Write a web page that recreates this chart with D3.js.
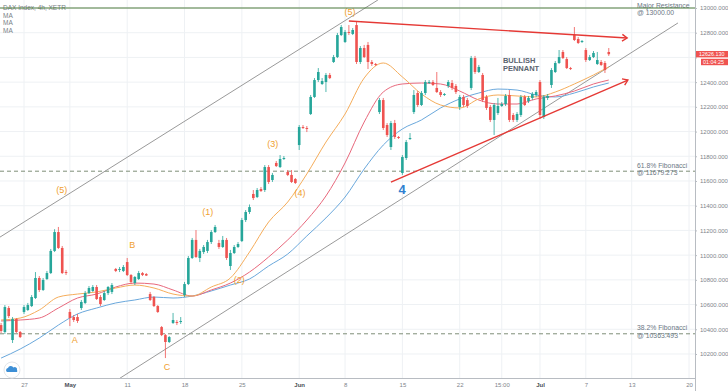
<!DOCTYPE html>
<html><head><meta charset="utf-8">
<script src="https://cdn.jsdelivr.net/npm/d3@7"></script>
<style>
html,body{margin:0;padding:0;background:#fff;}
svg{display:block;font-family:"Liberation Sans",Arial,sans-serif;}
</style></head><body>
<svg id="chart" width="728" height="391"></svg>
<script>
// ---------- DATA ----------
const opens = [10434,10378,10572,10313,10483,10378,10540,10556,10588,10653,
10815,10718,10807,10855,11034,11187,11058,10863,10540,10499,
10499,10572,10613,10693,10710,10742,10661,10637,10693,10702,
10888,10880,10872,10944,10839,10774,10807,10855,10847,10685,
10661,10588,10418,10353,10297,10451,10459,10459,10677,10766,
10977,11123,10977,11025,11034,11106,11187,11098,11066,11123,
10912,11017,11066,11114,11284,11349,11495,11470,11535,11527,
11713,11608,11746,11713,11778,11673,11649,11616,11891,12037,
12029,12142,12280,12417,12385,12401,12458,12563,12603,12781,
12725,12806,12790,12862,12563,12676,12701,12563,12547,12158,
12255,12053,11875,12069,11956,11665,11786,11940,12158,12312,
12215,12312,12393,12401,12353,12320,12296,12369,12393,12369,
12199,12280,12255,12353,12595,12482,12458,12280,12199,12094,
12150,12207,12223,12296,12134,12094,12134,12280,12247,12272,
12296,12401,12118,12272,12377,12482,12555,12644,12587,12514,
12781,12749,12725,12660,12579,12603,12547,12563,12555,12644];
const highs = [10451,10596,10588,10499,10491,10386,10596,10613,10677,10863,
10831,10815,10872,11050,11210,11228,11074,10880,10564,10515,
10524,10637,10710,10750,10758,10758,10677,10710,10750,10774,
10896,10904,10920,10977,10847,10831,10872,10863,10855,10702,
10669,10596,10426,10362,10345,10532,10475,10499,10783,10993,
11139,11203,11050,11082,11123,11203,11244,11123,11155,11139,
11042,11082,11106,11301,11365,11410,11527,11543,11551,11729,
11729,11665,11762,11810,11802,11689,11689,11624,12053,12053,
12045,12296,12433,12514,12433,12474,12474,12620,12798,12862,
12822,12862,12838,12887,12692,12701,12725,12579,12555,12272,
12272,12069,12086,12094,11964,11810,11932,11988,12336,12328,
12328,12417,12417,12417,12482,12336,12312,12417,12417,12385,
12296,12296,12272,12612,12612,12539,12474,12296,12215,12231,
12272,12239,12304,12336,12150,12158,12296,12296,12288,12320,
12336,12417,12296,12304,12514,12571,12660,12660,12603,12523,
12846,12765,12741,12676,12620,12652,12644,12579,12571,12676];
const lows = [10370,10362,10491,10289,10370,10329,10524,10548,10580,10645,
10702,10710,10799,10847,11025,11050,10847,10839,10426,10459,
10451,10556,10604,10685,10702,10637,10588,10629,10677,10685,
10863,10863,10863,10831,10766,10758,10799,10831,10831,10629,
10580,10532,10345,10167,10289,10443,10434,10443,10661,10758,
10969,10977,10944,11009,11017,11090,11179,11050,11058,10961,
10880,11009,11058,11106,11268,11333,11446,11462,11511,11511,
11576,11592,11713,11705,11770,11640,11584,11576,11851,12021,
11996,12134,12272,12401,12377,12320,12425,12555,12595,12773,
12717,12781,12781,12547,12547,12595,12506,12531,12531,12142,
12013,11956,11851,11940,11940,11649,11770,11932,12142,12199,
12207,12296,12385,12369,12312,12280,12288,12353,12336,12304,
12175,12199,12191,12336,12466,12474,12239,12175,12077,11972,
12134,12199,12207,12077,12077,12077,12118,12207,12231,12255,
12280,12102,12102,12255,12353,12474,12547,12587,12506,12498,
12733,12709,12717,12563,12571,12595,12539,12531,12474,12612];
const closes = [10386,10580,10507,10483,10378,10337,10580,10596,10661,10815,
10718,10799,10855,11034,11187,11058,10855,10855,10491,10475,
10467,10621,10693,10734,10742,10645,10604,10693,10742,10758,
10872,10888,10904,10839,10783,10823,10855,10839,10835,10637,
10588,10540,10353,10297,10337,10475,10451,10467,10766,10977,
11123,10985,11034,11066,11106,11187,11228,11066,11123,10977,
11017,11066,11090,11284,11349,11389,11462,11527,11519,11713,
11592,11649,11721,11778,11786,11649,11592,11584,12037,12029,
12021,12280,12417,12482,12409,12458,12433,12603,12781,12846,
12806,12798,12822,12563,12676,12603,12563,12547,12539,12255,
12029,11972,12069,11956,11948,11794,11915,11948,12296,12215,
12312,12401,12401,12377,12320,12296,12304,12401,12353,12320,
12280,12215,12207,12595,12482,12523,12255,12191,12094,12215,
12207,12223,12288,12094,12094,12142,12280,12215,12272,12304,
12320,12134,12280,12288,12498,12555,12603,12595,12514,12506,
12741,12717,12733,12579,12603,12636,12579,12539,12498,12626.13];

// x-axis ticks (candle index of the labelled session)
const tickIndex  = [6,18,33,48,63,78,90,105,120,131,141,153,165,180];
const tickLabels = ["27","May","11","18","25","Jun","8","15","22","15:00","Jul","7","13","20"];
const monthLabels = ["May","Jun","Jul"];
const priceTicks = [10200,10400,10600,10800,11000,11200,11400,11600,11800,12000,12200,12400,12600,12800,13000];

// moving averages sampled at candle indices
const maIndex = [0,5,10,15,20,25,30,35,40,45,50,55,60,65,70,75,80,85,90,95,100,105,110,115,120,125,130,135,140,145,150,155,159];
const maFast = [10475,10491,10556,10661,10685,10702,10734,10758,10734,10685,10669,10742,10815,11025,11268,11430,11657,11915,12142,12433,12555,12442,12304,12215,12191,12264,12296,12288,12280,12320,12385,12458,12523];
const maMid  = [10467,10475,10491,10572,10653,10685,10742,10774,10766,10718,10669,10718,10774,10863,10985,11123,11284,11479,11746,12077,12320,12385,12393,12385,12328,12255,12223,12223,12264,12288,12328,12385,12417];
const maSlow = [10167,10240,10329,10434,10524,10572,10613,10637,10661,10653,10669,10710,10758,10807,10912,11009,11155,11301,11470,11697,11891,12021,12094,12191,12264,12312,12344,12336,12296,12280,12312,12361,12393];

const resistanceLevel = 13000.00;
const fibLevels = [11679.273, 10363.493];
const fibNames = ["61.8% Fibonacci", "38.2% Fibonacci"];
const lastPrice = 12626.130;
const countdown = "01:04:25";

// trend lines [index, price] pairs
const channelUpper = [[-0.28, 11146], [98.6, 13065]];
const channelLower = [[31.1, 10004], [177.1, 12879]];
const pennantUpper = [[91.0, 12895], [163.8, 12757]];
const pennantLower = [[102.0, 11591], [164.0, 12417]];

// wave labels
const waveText  = ["(5)","A","B","C","(1)","(2)","(3)","(4)","(5)"];
const waveIndex = [15.9, 19.3, 34.3, 43.4, 54.1, 62.3, 71.1, 78.2, 91.3];
const wavePrice = [11527, 10313, 11082, 10095, 11349, 10799, 11899, 11503, 12968];
const bigLabel = {text:"4", index:104.9, price:11535};
const pennantText = ["BULLISH", "PENNANT"];
const pennantAnchor = {index:131.3, price:12555};

// ---------- DRAW ----------
const svg = d3.select("#chart");
const plotR = 695, plotB = 378;
const x = d3.scaleLinear().domain([-0.28, 181.56]).range([0, plotR]);
const y = d3.scaleLinear().domain([10000, 13000]).range([378.7, 8]);
const up = "#26a69a", down = "#ef5350";

svg.append("defs").append("clipPath").attr("id","plot")
  .append("rect").attr("x",0).attr("y",0).attr("width",plotR).attr("height",plotB);

// grid
const grid = svg.append("g");
grid.selectAll("line.v").data(tickIndex).join("line")
  .attr("x1", d=>x(d)).attr("x2", d=>x(d)).attr("y1",0).attr("y2",plotB)
  .attr("stroke","#eef1f4").attr("stroke-width",1);
grid.selectAll("line.h").data(priceTicks).join("line")
  .attr("x1",0).attr("x2",plotR).attr("y1",d=>y(d)).attr("y2",d=>y(d))
  .attr("stroke","#eef1f4").attr("stroke-width",1);

const plot = svg.append("g").attr("clip-path","url(#plot)");

// horizontal levels
plot.selectAll("line.fib").data(fibLevels).join("line")
  .attr("x1",0).attr("x2",plotR).attr("y1",d=>y(d)).attr("y2",d=>y(d))
  .attr("stroke","#7f8f78").attr("stroke-width",1).attr("stroke-dasharray","4,3");

// channel lines
const lineGen = d3.line().x(d=>x(d[0])).y(d=>y(d[1]));
[channelUpper, channelLower].forEach(c=>{
  plot.append("path").attr("d", lineGen(c)).attr("fill","none")
    .attr("stroke","#9a9a9a").attr("stroke-width",1);
});

// moving averages
const maLine = d3.line().x((d,i)=>x(maIndex[i])).y(d=>y(d)).curve(d3.curveMonotoneX);
[[maSlow,"#6aa8dc"],[maMid,"#e8687c"],[maFast,"#f5ad5b"]].forEach(([arr,col])=>{
  plot.append("path").attr("d", maLine(arr)).attr("fill","none")
    .attr("stroke",col).attr("stroke-width",1);
});

// candles
const idx = d3.range(opens.length);
const cg = plot.append("g");
cg.selectAll("line").data(idx).join("line")
  .attr("x1", i=>x(i)).attr("x2", i=>x(i))
  .attr("y1", i=>y(highs[i])).attr("y2", i=>y(lows[i]))
  .attr("stroke", i=>closes[i]>=opens[i]?up:down).attr("stroke-width",0.8);
cg.selectAll("rect").data(idx).join("rect")
  .attr("x", i=>x(i)-1.3).attr("width",2.6)
  .attr("y", i=>y(Math.max(opens[i],closes[i])))
  .attr("height", i=>Math.max(0.9, Math.abs(y(opens[i])-y(closes[i]))))
  .attr("fill", i=>closes[i]>=opens[i]?up:down);

// pennant lines with arrowheads
[pennantUpper, pennantLower].forEach(c=>{
  plot.append("path").attr("d", lineGen(c)).attr("fill","none")
    .attr("stroke","#e53935").attr("stroke-width",1.4);
  const x1=x(c[0][0]), y1=y(c[0][1]), x2=x(c[1][0]), y2=y(c[1][1]);
  const a = Math.atan2(y2-y1, x2-x1), L=6, A=0.6;
  const p1=[x2-L*Math.cos(a-A), y2-L*Math.sin(a-A)];
  const p2=[x2-L*Math.cos(a+A), y2-L*Math.sin(a+A)];
  plot.append("path").attr("d",`M${p1}L${x2},${y2}L${p2}`).attr("fill","none")
    .attr("stroke","#e53935").attr("stroke-width",1.4);
});

// wave labels
svg.selectAll("text.wave").data(waveText).join("text")
  .attr("x",(d,i)=>x(waveIndex[i])).attr("y",(d,i)=>y(wavePrice[i]))
  .attr("text-anchor","middle").attr("dominant-baseline","central")
  .attr("font-size",9).attr("fill","#f0a030").text(d=>d);
svg.append("text").attr("x",x(bigLabel.index)).attr("y",y(bigLabel.price))
  .attr("text-anchor","middle").attr("dominant-baseline","central")
  .attr("font-size",13).attr("font-weight","bold").attr("fill","#2f80d0").text(bigLabel.text);
svg.selectAll("text.pen").data(pennantText).join("text")
  .attr("x",x(pennantAnchor.index)).attr("y",(d,i)=>y(pennantAnchor.price)+i*8.5)
  .attr("font-size",7.5).attr("font-weight","bold").attr("fill","#5a6470").text(d=>d);

// right-hand annotations
const noteG = svg.append("g").attr("font-size",6.8).attr("fill","#6b7785");
function note(lines, yc){
  lines.forEach((t,i)=> noteG.append("text").attr("x",637).attr("y",yc + i*7.4)
    .attr("dominant-baseline","central").text(t));
}
note(["Major Resistance", "@ " + resistanceLevel.toFixed(2)], 5.5);
fibLevels.forEach((f,k)=> note([fibNames[k], "@ " + f.toFixed(3)], y(f)-6));

// legend top-left
const leg = svg.append("g").attr("font-size",6.5).attr("fill","#7a7f87");
leg.append("text").attr("x",3).attr("y",7).attr("dominant-baseline","central").text("DAX Index, 4h, XETR");
[0,1,2].forEach(k=> leg.append("text").attr("x",3).attr("y",15+k*7.5)
  .attr("dominant-baseline","central").text("MA"));
// resistance line drawn over the legend (as in reference)
svg.append("line").attr("x1",0).attr("x2",plotR)
  .attr("y1",y(resistanceLevel)).attr("y2",y(resistanceLevel))
  .attr("stroke","#4e7d3e").attr("stroke-width",1);

// axes
const yAxis = svg.append("g").attr("transform",`translate(${plotR},0)`)
  .call(d3.axisRight(y).tickValues(priceTicks).tickFormat(d3.format(".3f")).tickSize(2).tickPadding(3));
yAxis.select(".domain").attr("stroke","#b8bcc2").attr("d","M0.5,0V391");
yAxis.selectAll(".tick line").attr("stroke","#b8bcc2");
yAxis.selectAll(".tick text").attr("font-size",6).attr("fill","#80858c")
  .attr("font-family","'Liberation Sans',Arial,sans-serif");
// the price tag covers the tick label next to it (as in the reference)
yAxis.selectAll(".tick").filter(d=>Math.abs(y(d)-y(lastPrice))<10).select("text").remove();

const xAxis = svg.append("g").attr("transform",`translate(0,${plotB})`)
  .call(d3.axisBottom(x).tickValues(tickIndex).tickFormat((d,i)=>tickLabels[i]).tickSize(0).tickPadding(5));
xAxis.select(".domain").attr("stroke","#b8bcc2").attr("d",`M0,0.5H${plotR}`);
xAxis.selectAll(".tick text").attr("font-size",6).attr("fill",(d,i)=>monthLabels.includes(tickLabels[i])?"#4a4f57":"#80858c")
  .attr("font-weight",(d,i)=>monthLabels.includes(tickLabels[i])?"bold":"normal")
  .attr("font-family","'Liberation Sans',Arial,sans-serif");

// last price tag + countdown
const ly = y(lastPrice);
svg.append("rect").attr("x",696).attr("y",ly-3.2).attr("width",32).attr("height",6.4).attr("fill","#ef5350");
svg.append("text").attr("x",699).attr("y",ly).attr("dominant-baseline","central")
  .attr("font-size",5.4).attr("fill","#fff").text(lastPrice.toFixed(3));
svg.append("rect").attr("x",701).attr("y",ly+4.6).attr("width",27).attr("height",6.4).attr("fill","#ef5350");
svg.append("text").attr("x",703).attr("y",ly+7.8).attr("dominant-baseline","central")
  .attr("font-size",5.4).attr("fill","#fff").text(countdown);

// logo
const logo = svg.append("g").attr("transform","translate(12,370)");
logo.append("circle").attr("r",8).attr("fill","#fff").attr("stroke","#e3e6ea");
logo.append("path").attr("d","M-5,2 a2.2,2.2 0 0 1 1,-4 a3,3 0 0 1 5.5,-0.5 a2.3,2.3 0 0 1 3.5,2.5 a1.8,1.8 0 0 1 0,2 Z")
  .attr("fill","#3d8fd6");
</script>
</body></html>
